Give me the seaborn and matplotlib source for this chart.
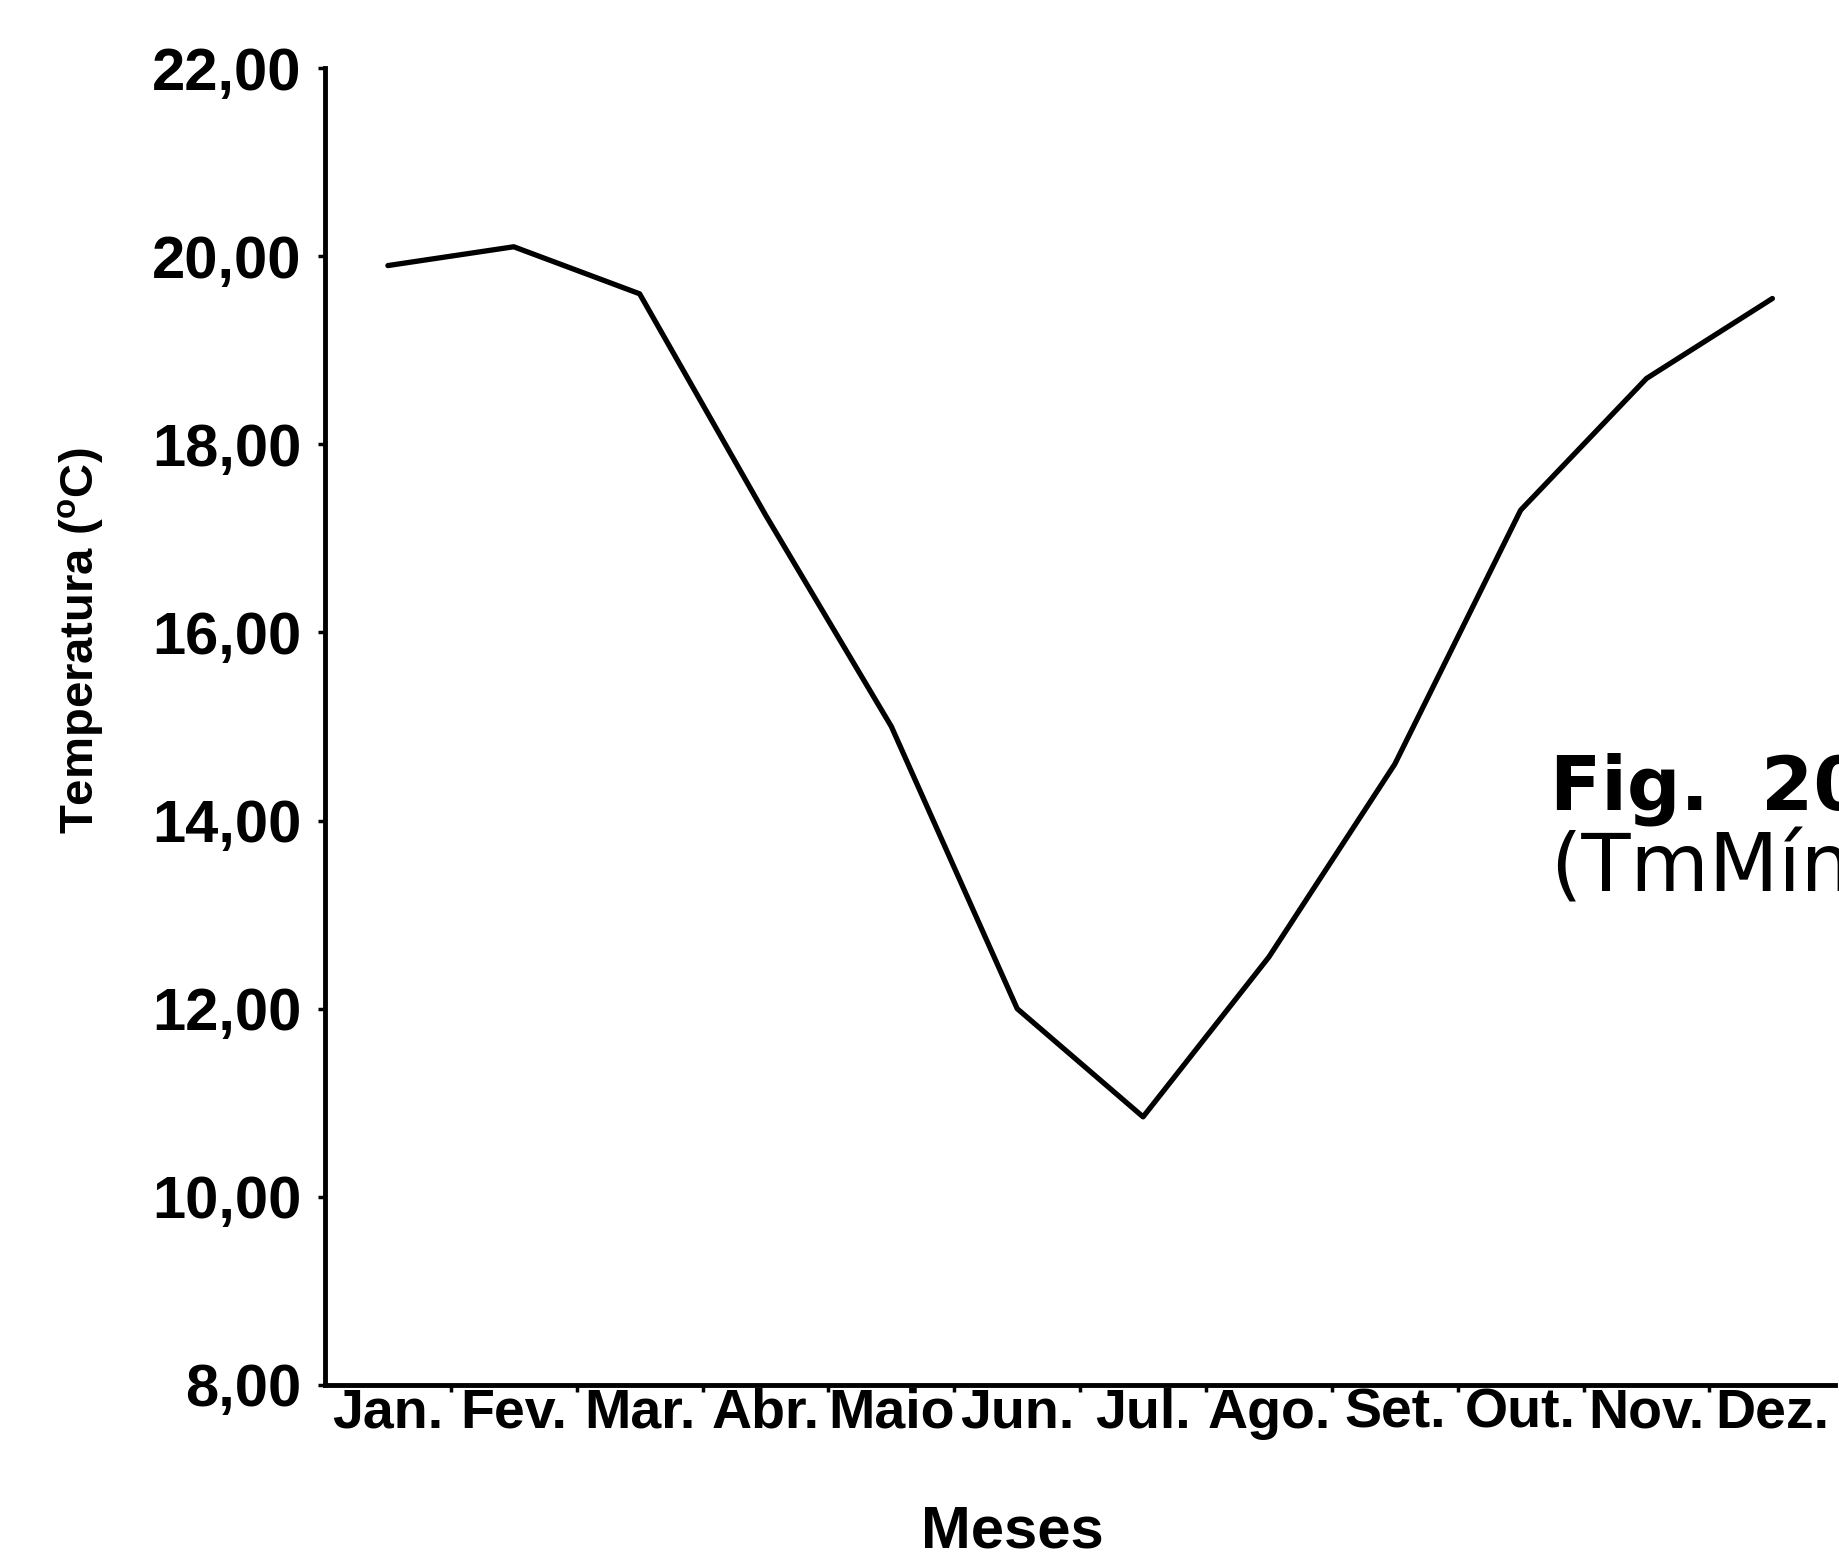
import numpy as np
import pandas as pd
import matplotlib
matplotlib.use("Agg")
import matplotlib.pyplot as plt
from matplotlib.ticker import FuncFormatter, FixedLocator
import seaborn as sns

# Mean minimum temperature per month
meses = ["Jan.", "Fev.", "Mar.", "Abr.", "Maio", "Jun.", "Jul.",
         "Ago.", "Set.", "Out.", "Nov.", "Dez."]
temperatura = [19.9, 20.1, 19.6, 17.25, 15.0, 12.0, 10.85,
               12.55, 14.6, 17.3, 18.7, 19.55]
y_ticks = [8, 10, 12, 14, 16, 18, 20, 22]

sns.set_style("ticks")
axis_font = ["Liberation Sans", "DejaVu Sans"]
plt.rcParams["font.family"] = axis_font
plt.rcParams["font.weight"] = "bold"
plt.rcParams["mathtext.fontset"] = "custom"
plt.rcParams["mathtext.rm"] = "Liberation Sans:bold"
plt.rcParams["mathtext.bf"] = "Liberation Sans:bold"
for key in ("text.color", "axes.labelcolor", "xtick.color", "ytick.color", "axes.edgecolor"):
    plt.rcParams[key] = "black"

df = pd.DataFrame({"pos": np.arange(len(meses)), "mes": meses, "temp": temperatura})

fig = plt.figure(figsize=(18.39, 15.57), dpi=100)
ax = fig.add_axes([0.1767, 0.1105, 0.8213, 0.8458])

sns.lineplot(data=df, x="pos", y="temp", ax=ax, color="black",
             linewidth=3.8, sort=False)

ax.set_xlim(-0.5, len(meses) - 0.5)
ax.set_ylim(y_ticks[0], y_ticks[-1])

# month names at the centres, small ticks between months
ax.set_xticks(df["pos"])
ax.set_xticklabels(meses, fontsize=40, fontweight="bold", family=axis_font)
ax.xaxis.set_minor_locator(FixedLocator(np.arange(0.5, len(meses) - 0.5, 1)))
ax.tick_params(axis="x", which="major", length=0, pad=2)
ax.tick_params(axis="x", which="minor", length=5, width=2.5, direction="out")

ax.set_yticks(y_ticks)
ax.yaxis.set_major_formatter(FuncFormatter(lambda v, p: f"{v:.2f}".replace(".", ",")))
ax.tick_params(axis="y", which="major", length=5, width=2.5, pad=12, labelsize=43)
for t in ax.get_yticklabels():
    t.set_fontweight("bold")

sns.despine(ax=ax, top=True, right=True)
for side in ("left", "bottom"):
    ax.spines[side].set_linewidth(3.5)

ax.set_xlabel("Meses", fontsize=43, fontweight="bold", family=axis_font)
ax.xaxis.set_label_coords(0.455, -0.091)
ax.set_ylabel("Temperatura ($^{\\mathbf{o}}$C)", fontsize=34, fontweight="bold", family=axis_font)
ax.yaxis.set_label_coords(-0.145, 0.565)

# figure caption at the right
fig.text(0.843, 1 - 809 / 1557, "Fig.  20", family=["DejaVu Sans"],
         fontweight="bold", fontsize=54, ha="left", va="baseline")
fig.text(0.843, 1 - 891 / 1557, "(TmMín)", family=["DejaVu Sans"],
         fontweight="normal", fontsize=58, ha="left", va="baseline")

fig.savefig("out.png", dpi=100, facecolor="white")
